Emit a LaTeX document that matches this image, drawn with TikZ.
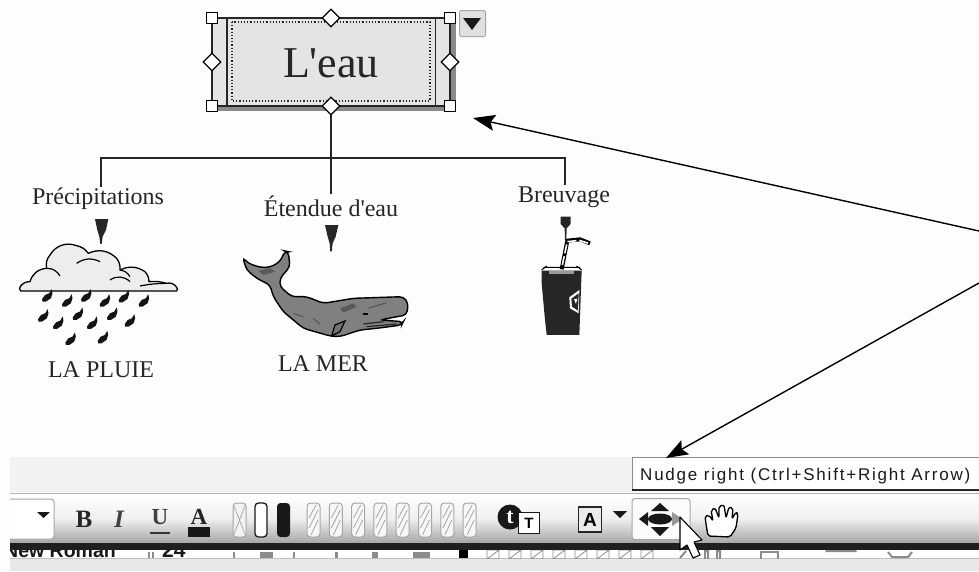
\documentclass[tikz,border=0pt]{standalone}
\usepackage{fontspec}
\setmainfont[Ligatures=TeXOff]{Liberation Serif}
\newfontfamily\tipfont[LetterSpace=10.5]{Liberation Sans}
\newfontfamily\uifont{Liberation Sans}
\usetikzlibrary{shapes.geometric,arrows.meta,calc}
\definecolor{boxgray}{HTML}{E4E4E4}
\definecolor{shadowgray}{HTML}{8A8A8A}
\definecolor{whalegray}{HTML}{808080}
\definecolor{pagewhite}{HTML}{FDFDFD}
\tikzset{
  handlesq/.style={draw=black,fill=white,line width=1.2pt,minimum size=11pt,inner sep=0pt,shape=rectangle},
  handledi/.style={draw=black,fill=white,line width=1.2pt,shape=diamond,minimum size=18pt,inner sep=0pt},
  treeline/.style={draw=black!85,line width=1.2pt},
  lab/.style={font=\fontsize{24}{24}\selectfont,text=black!85,inner sep=1pt},
  bigarrow/.style={draw=black,line width=1.4pt,-{Stealth[length=22pt,width=16pt,inset=4pt]}},
  pin/.style={fill=black!85,draw=none},
  pill/.style={rounded corners=3.5pt,line width=1pt},
  zoomed/.style={x=0.3333pt,y=-0.3333pt}
}
\begin{document}
\begin{tikzpicture}[x=1pt,y=-1pt]
\useasboundingbox (0,0) rectangle (979,571);
\fill[pagewhite] (0,0) rectangle (979,571);
% ---- root box
\fill[shadowgray] (218,24) rectangle (456,111);
\node[draw=black!85,line width=1.3pt,fill=boxgray,minimum width=238pt,minimum height=88pt,inner sep=0pt] (root) at (331,62) {};
\node[font=\fontsize{44}{45}\selectfont,text=black!85,inner sep=0pt] (roottext) at (331,63) {L'eau};
\draw[black!85,line width=1.2pt] (227,18) -- (227,106) (435.5,18) -- (435.5,106);
\draw[black!85,line width=1.2pt,dotted] (232,22) rectangle (430,101);
% ---- tree
\node[lab] (prec) at (98,199) {Précipitations};
\node[lab] (eten) at (331,206) {Étendue d'eau};
\node[lab] (breu) at (564,197) {Breuvage};
\node[lab] (pluie) at (101,370) {LA PLUIE};
\node[lab] (mer) at (323,364) {LA MER};
\coordinate (busL) at (101,158);
\coordinate (busM) at (331,158);
\coordinate (busR) at (565,158);
\draw[treeline] (root.south) -- (eten.north);
\draw[treeline] (busL |- prec.north) -- (busL) -- (busR) -- (busR |- breu.north);
% ---- handles
\node[handlesq] (h1) at (212,18) {};
\node[handlesq] (h2) at (450,18) {};
\node[handlesq] (h3) at (212,106) {};
\node[handlesq] (h4) at (450,106) {};
\node[handledi] (h5) at (331,18) {};
\node[handledi] (h6) at (331,106) {};
\node[handledi] (h7) at (212,62) {};
\node[handledi] (h8) at (450,62) {};
% ---- dropdown
\node[draw=black!35,fill=black!12,line width=1pt,rounded corners=2pt,minimum size=26pt,inner sep=0pt] (dd) at (472.5,23.5) {};
\fill[black!90] (463,18) -- (481,18) -- (472,30) -- cycle;
% ---- cloud
\begin{scope}[shift={(0,180)},zoomed]
  \fill[pin] (285,117) -- (325,117) -- (318,150) -- (308,170) -- (305,192) -- (301,192) -- (298,170) -- (292,150) -- cycle;
  \draw[black,line width=1.3pt,fill=black!7,line join=round]
    (62,333) to[bend left=50] (62,318) to[bend left=25] (90,305) to[bend left=35] (140,265)
    to[bend left=25] (150,225) to[bend left=40] (230,197) to[bend left=20] (265,220)
    to[bend left=35] (350,235) to[bend left=20] (360,270) to[bend left=30] (435,275)
    to[bend left=20] (447,305) to[bend left=10] (500,310) to[bend left=35] (530,322) to[bend left=50] (530,333) -- cycle;
  \draw[black,line width=1.2pt]
    (140,265) to[bend left=30] (180,288)
    (230,250) to[bend left=30] (300,245)
    (330,300) to[bend left=40] (390,305)
    (360,270) to[bend left=25] (390,290)
    (420,318) to[bend left=5] (500,310);
  \foreach \dx/\dy in {145/350,205/365,262/350,318/365,375/352,435/365,133/410,178/432,237/405,280/432,340/405,393/425,215/480,312/475}{
    \fill[black!92,shift={(\dx,\dy)},scale=1.25] (-15,6) -- (-8,-4) -- (2,-8) -- (8,-18) -- (10,-8) -- (6,4) -- (-6,12) -- (-14,12) -- cycle;
  }
\end{scope}
% ---- whale
\begin{scope}[shift={(220,180)},zoomed]
  \fill[pin] (315,135) -- (355,135) -- (347,170) -- (338,190) -- (335,215) -- (331,215) -- (329,190) -- (323,170) -- cycle;
  \draw[black,line width=1.4pt,fill=whalegray,rounded corners=4pt]
    (68,232) -- (85,250) -- (120,262) -- (150,262) -- (180,245) -- (195,213) -- (205,215) -- (210,260) -- (180,295) -- (180,320)
    -- (215,350) -- (260,350) -- (310,370) -- (400,355) -- (550,350) -- (565,370) -- (560,405) -- (520,412) -- (480,420)
    -- (550,425) -- (545,435) -- (470,445) -- (420,450) -- (360,470) -- (330,468) -- (250,445) -- (190,395) -- (160,350)
    -- (150,315) -- (110,295) -- (80,270) -- cycle;
  \fill[black!65] (360,385) -- (400,370) -- (410,380) -- (370,398) -- cycle;
  \fill[black!65] (115,272) -- (150,265) -- (165,275) -- (130,285) -- cycle;
  \draw[black!70,line width=.8pt] (445,385) -- (500,368) (220,400) -- (250,410) (280,415) -- (300,432);
  \draw[black,line width=1.2pt,fill=black!55] (335,468) -- (345,435) -- (375,423) -- (360,455) -- cycle;
  \fill[black] (428,398) rectangle (445,404);
  \draw[black!85,line width=1.2pt] (430,432) -- (490,425) (440,440) -- (530,432);
\end{scope}
% ---- cup
\begin{scope}[shift={(500,180)},zoomed]
  \fill[black!85] (125,272) -- (245,272) -- (238,465) -- (140,465) -- (135,420) -- (125,310) -- cycle;
  \fill[black!40] (148,272) -- (222,272) -- (222,282) -- (148,282) -- cycle;
  \draw[black,line width=1pt] (125,270) -- (140,258) (230,258) -- (245,270) (130,262) -- (240,262);
  \fill[white] (208,352) -- (238,330) -- (236,400) -- (210,385) -- cycle;
  \fill[black!85] (214,356) -- (236,340) -- (234,392) -- (216,380) -- cycle;
  \fill[white] (222,358) -- (232,356) -- (228,372) -- cycle;
  \draw[black,line width=4pt] (185,268) -- (202,182) -- (240,178) -- (270,190);
  \draw[white,line width=1.6pt,dash pattern=on 9pt off 3pt] (187,255) -- (202,185) -- (238,181) -- (266,190);
  \fill[pin] (182,110) -- (212,110) -- (212,132) -- (200,145) -- (199,180) -- (195,180) -- (194,145) -- (182,132) -- cycle;
\end{scope}
% ---- lower band
\fill[black!5] (10,457) rectangle (979,492);
\draw[black!30,line width=1pt] (10,493) -- (979,493);
\shade[top color=white,bottom color=black!35,middle color=black!6] (10,494) rectangle (979,543);
\fill[black!88] (10,543) rectangle (979,550);
\fill[white] (10,550) rectangle (979,558);
\fill[black!9] (10,558) rectangle (979,571);
\draw[black!25,line width=1pt] (10,558) -- (979,558);
\begin{scope}
  \clip (10,550) rectangle (979,558);
  \node[font=\uifont\bfseries\fontsize{19.5}{20}\selectfont,anchor=base west,inner sep=0pt,text=black!90] (fontname) at (4,557) {New Roman};
  \node[font=\uifont\bfseries\fontsize{21}{21}\selectfont,anchor=base west,inner sep=0pt,text=black!90] (fontsize) at (162,557) {24};
  \foreach \qx/\qw in {148/2,152/2,233/2,260/13,293/2,335/3,372/6,413/17}{\fill[black!45] (\qx,552) rectangle +(\qw,6);}
  \fill[black] (459,550) rectangle (468,558);
  \foreach \qx in {487,509,531,553,575,597,619,641}{\draw[black!45,line width=.8pt] (\qx,550) rectangle +(12,9) (\qx,559) -- +(12,-9);}
  \draw[black!45,line width=2pt] (680,558) -- (686,551) (705,551) rectangle (708,560) (717,551) rectangle (720,560);
  \draw[black!45,line width=1.2pt] (761,560) -- (761,552) -- (778,552) -- (778,560);
  \fill[black!45] (825,552) arc (180:360:16 and 6) -- cycle;
  \draw[black!45,line width=2pt] (888,552) -- (892,557) -- (908,557) -- (912,552);
\end{scope}
% ---- toolbar left
\draw[black!35,fill=white,line width=1pt,rounded corners=3pt] (10,499) -- (54,499) -- (54,539) -- (10,539);
\fill[black!90] (37,512) -- (50,512) -- (43.5,518) -- cycle;
\node[font=\bfseries\fontsize{25}{25}\selectfont,inner sep=0pt,text=black!85] (tb) at (84,519) {B};
\node[font=\itshape\bfseries\fontsize{25}{25}\selectfont,inner sep=0pt,text=black!75] (ti) at (119,519) {I};
\node[font=\bfseries\fontsize{23}{23}\selectfont,inner sep=0pt,text=black!75] (tu) at (160,517) {U};
\draw[black!80,line width=1.6pt] (150,533) -- (170,533);
\node[font=\bfseries\fontsize{23}{23}\selectfont,inner sep=0pt,text=black!85] (ta) at (199,517) {A};
\fill[black!90] (188,527) rectangle (210,537);
\draw[pill,black!35,fill=black!5] (233,503) rectangle (246,537);
\draw[black!35,line width=.7pt] (234,506) -- (245,534) (245,506) -- (234,534);
\draw[pill,black!90,fill=white,line width=1.3pt] (255,503) rectangle (267,537);
\fill[pill,black!90] (277,503) rectangle (290,537);
\foreach \px in {307,329.3,351.6,373.9,396.2,418.5,440.8,463.1}{
  \draw[pill,black!35,fill=black!3] (\px,503) rectangle ++(13,34);
  \draw[black!35,line width=.8pt] (\px+2,528) -- (\px+11,510);
  \draw[black!35,line width=.8pt] (\px+2,518) -- (\px+9,505);
  \draw[black!35,line width=.8pt] (\px+4,535) -- (\px+11,520);
}
% ---- t/T icon
\node[circle,fill=black!90,minimum size=25pt,inner sep=0pt,font=\bfseries\fontsize{22}{22}\selectfont,text=white] (tcircle) at (510,517) {t};
\node[draw=black!90,fill=white,line width=1.4pt,minimum size=21pt,inner sep=0pt,font=\uifont\bfseries\fontsize{15}{15}\selectfont] (tsquare) at (529,523) {T};
% ---- A box
\node[draw=black!85,fill=black!8,line width=1.8pt,minimum width=23pt,minimum height=25pt,inner sep=0pt,font=\uifont\bfseries\fontsize{19}{19}\selectfont] (abox) at (590,519.5) {A};
\fill[black!90] (613,511) -- (627,511) -- (620,518) -- cycle;
% ---- nudge button
\node[draw=black!35,fill=white!90!black!10,line width=1pt,rounded corners=3pt,minimum width=58pt,minimum height=41pt,inner sep=0pt] (nudge) at (661,519) {};
\fill[black!90] (660,519) ellipse (12pt and 5.5pt);
\fill[black!90] (651,511) -- (669,511) -- (660,503) -- cycle;
\fill[black!90] (651,527) -- (669,527) -- (660,536) -- cycle;
\fill[black!90] (648,512) -- (648,526) -- (639,519) -- cycle;
\fill[black!40] (672,512) -- (672,526) -- (683,519) -- cycle;
% ---- cursor
\draw[black,line width=1.1pt,fill=white,line join=round]
  (680,517) -- (680,550) -- (687,545) -- (693,558) -- (700,555) -- (694,542) -- (702,540) -- cycle;
% ---- hand
\draw[black,line width=1.3pt,fill=white,line join=round,rounded corners=2pt]
  (708,536) -- (706,524) -- (705,516) -- (709,515) -- (713,521) -- (711,510) -- (715,508) -- (719,518) -- (719,506)
  -- (724,505) -- (726,518) -- (729,507) -- (733,508) -- (732,519) -- (736,512) -- (738,514) -- (736,528) -- (730,537) -- cycle;
% ---- tooltip and arrows
\node[draw=black!45,fill=white,line width=1pt,anchor=north west,minimum width=347pt,minimum height=33pt,inner sep=0pt] (tip) at (632,457) {};
\draw[black!85,line width=1.2pt] (632,490) -- (979,490);
\node[font=\tipfont\fontsize{17}{18}\selectfont,anchor=west,inner sep=0pt,text=black!90] (tiptext) at (640,476) {Nudge right (Ctrl+Shift+Right Arrow)};
\coordinate (src1) at (979,231);
\coordinate (dst1) at (473,118);
\coordinate (src2) at (979,283);
\coordinate (dst2) at (666,458);
\draw[bigarrow] (src1) -- (dst1);
\draw[bigarrow] (src2) -- (dst2);
\end{tikzpicture}
\end{document}
